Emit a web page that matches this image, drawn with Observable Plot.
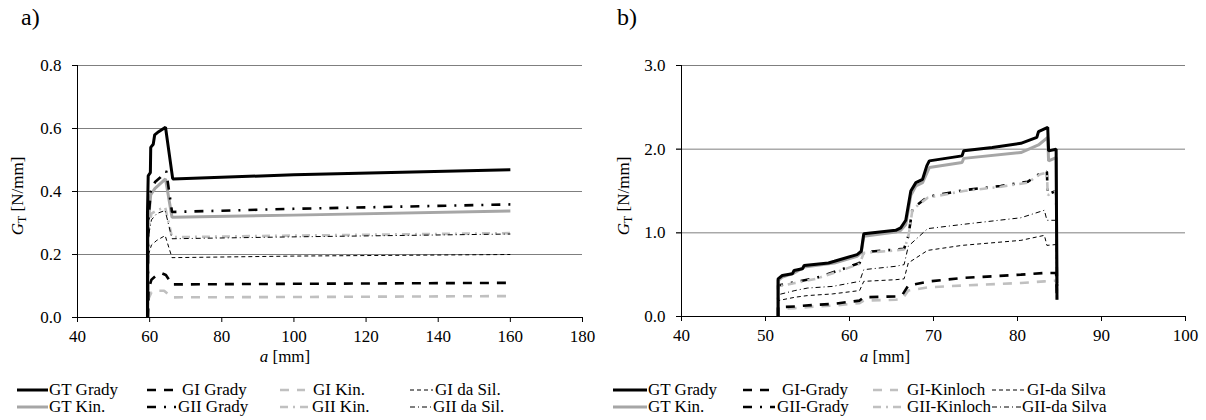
<!DOCTYPE html>
<html>
<head>
<meta charset="utf-8">
<script src="https://cdn.jsdelivr.net/npm/d3@7"></script>
<script src="https://cdn.jsdelivr.net/npm/@observablehq/plot@0.6"></script>
<style>
  body { margin: 0; background: #fff; }
  #root { position: relative; width: 1206px; height: 420px; overflow: hidden; font-family: "Liberation Serif", serif; color: #000; }
  .abs { position: absolute; white-space: nowrap; }
  .panel { position: absolute; top: 0; }
</style>
</head>
<body>
<div id="root"></div>
<script>
// ---------- Panel a) data: [a (mm), G (N/mm)] ----------
const a_xTicks = [40, 60, 80, 100, 120, 140, 160, 180];
const a_yTicks = [0.0, 0.2, 0.4, 0.6, 0.8];
const a_GT_Grady = [[59.4,0],[59.4,0.33],[59.6,0.45],[60.2,0.46],[60.3,0.54],[61.0,0.55],[61.4,0.58],[62.5,0.59],[64.4,0.604],[66.4,0.44],[100,0.453],[130,0.461],[160,0.469]];
const a_GT_Kin = [[59.5,0],[59.6,0.30],[60.3,0.39],[61.5,0.41],[62.5,0.42],[64.4,0.44],[66.2,0.318],[100,0.325],[160,0.338]];
const a_GI_Grady = [[59.5,0],[59.7,0.09],[60.5,0.12],[61.5,0.13],[63.5,0.14],[64.5,0.135],[66.2,0.105],[100,0.107],[160,0.11]];
const a_GII_Grady = [[59.5,0],[59.6,0.30],[60.3,0.40],[61.5,0.43],[63,0.445],[64.6,0.465],[66.2,0.335],[100,0.345],[160,0.359]];
const a_GI_Kin = [[59.5,0],[59.7,0.06],[60.5,0.08],[62,0.085],[64,0.085],[66.2,0.064],[100,0.065],[160,0.068]];
const a_GII_Kin = [[59.5,0],[59.7,0.28],[60.5,0.33],[62,0.34],[64.3,0.35],[66.2,0.255],[100,0.26],[160,0.268]];
const a_GI_daSil = [[59.5,0],[59.7,0.2],[60.5,0.23],[62,0.245],[64.3,0.26],[66.2,0.19],[100,0.195],[160,0.2]];
const a_GII_daSil = [[59.5,0],[59.7,0.26],[60.5,0.31],[62,0.33],[64.3,0.34],[66.2,0.25],[100,0.256],[160,0.265]];

// ---------- Panel b) data ----------
const b_xTicks = [40, 50, 60, 70, 80, 90, 100];
const b_yTicks = [0.0, 1.0, 2.0, 3.0];
const b_GT_Grady = [[51.5,0],[51.5,0.45],[52,0.49],[53.2,0.51],[53.4,0.55],[54.4,0.57],[54.6,0.61],[57.5,0.64],[58.2,0.66],[60.9,0.74],[61.4,0.78],[61.7,0.99],[65.5,1.03],[66.1,1.06],[66.7,1.15],[67.3,1.50],[67.9,1.60],[68.7,1.64],[69.2,1.80],[69.5,1.86],[73.4,1.92],[73.6,1.98],[77,2.02],[80.4,2.07],[82.3,2.14],[82.5,2.21],[83.6,2.26],[83.7,1.98],[84.6,2.0],[84.7,0.2]];
const b_GT_Kin = [[51.5,0],[51.5,0.43],[52,0.47],[53.4,0.52],[54.6,0.59],[58.2,0.64],[60.9,0.72],[61.4,0.76],[61.7,0.96],[65.5,1.01],[66.1,1.03],[66.7,1.10],[67.3,1.45],[67.9,1.56],[68.7,1.60],[69.5,1.78],[73.4,1.84],[73.6,1.89],[80.4,1.96],[82.5,2.05],[83.6,2.14],[83.7,1.86],[84.6,1.9],[84.7,0.4]];
const b_GI_Grady = [[51.5,0],[51.5,0.11],[53.5,0.12],[56,0.14],[58,0.15],[61.2,0.19],[61.7,0.23],[65.5,0.24],[66.3,0.26],[67.0,0.37],[69.5,0.42],[73.4,0.46],[80.4,0.50],[83.2,0.52],[84.6,0.52],[84.7,0.2]];
const b_GII_Grady = [[51.5,0],[51.5,0.37],[53.5,0.41],[56,0.46],[59,0.56],[61.2,0.64],[61.7,0.77],[65.5,0.80],[66.5,0.81],[67.0,0.96],[67.5,1.29],[69.3,1.43],[73.6,1.51],[78,1.56],[81.2,1.61],[82.7,1.71],[83.5,1.73],[83.6,1.46],[84.6,1.5],[84.7,0.3]];
const b_GI_Kin = [[51.5,0],[51.5,0.09],[53.5,0.10],[56,0.12],[58,0.13],[61.2,0.16],[61.7,0.19],[65.5,0.20],[66.3,0.21],[67.0,0.31],[69.5,0.35],[73.4,0.37],[80.4,0.40],[83.2,0.42],[84.6,0.43],[84.7,0.2]];
const b_GII_Kin = [[51.5,0],[51.5,0.36],[53.5,0.40],[56,0.45],[59,0.55],[61.2,0.63],[61.7,0.76],[65.5,0.79],[66.5,0.80],[67.0,0.95],[67.5,1.28],[69.3,1.42],[73.6,1.50],[78,1.55],[81.2,1.60],[82.7,1.70],[83.5,1.72],[83.6,1.45],[84.6,1.5],[84.7,0.3]];
const b_GI_daSil = [[51.5,0],[51.5,0.19],[53.5,0.23],[55,0.25],[58,0.27],[61.2,0.31],[61.7,0.42],[65.5,0.44],[66.5,0.45],[67.0,0.64],[69.3,0.79],[73.4,0.85],[80.4,0.91],[83.2,0.97],[83.5,0.85],[84.6,0.86],[84.7,0.3]];
const b_GII_daSil = [[51.5,0],[51.5,0.26],[53.5,0.31],[55,0.34],[58,0.36],[61.2,0.42],[61.7,0.56],[65.5,0.60],[66.5,0.62],[67.0,0.84],[69.3,1.05],[73.4,1.10],[80.4,1.18],[83.2,1.27],[83.5,1.15],[84.6,1.15],[84.7,0.3]];

const a_labels = ["GT Grady", "GI Grady", "GI Kin.", "GI da Sil.", "GT Kin.", "GII Grady", "GII Kin.", "GII da Sil."];
const b_labels = ["GT Grady", "GI-Grady", "GI-Kinloch", "GI-da Silva", "GT Kin.", "GII-Grady", "GII-Kinloch", "GII-da Silva"];

// styles, in legend order: GT Grady, GI Grady, GI Kin, GI daSil, GT Kin, GII Grady, GII Kin, GII daSil
const styles = [
  {stroke: "#000", strokeWidth: 3, dash: null},
  {stroke: "#000", strokeWidth: 2.6, dash: "9,8"},
  {stroke: "#c0c0c0", strokeWidth: 2.6, dash: "9,8"},
  {stroke: "#000", strokeWidth: 1, dash: "4,3"},
  {stroke: "#a6a6a6", strokeWidth: 3, dash: null},
  {stroke: "#000", strokeWidth: 2.6, dash: "9,8,2,8"},
  {stroke: "#c0c0c0", strokeWidth: 2.6, dash: "8,5,2,5"},
  {stroke: "#000", strokeWidth: 1, dash: "5,3,1,3"}
];

function lineMark(data, s) {
  return Plot.line(data, {x: d => d[0], y: d => d[1], stroke: s.stroke, strokeWidth: s.strokeWidth,
    strokeDasharray: s.dash || undefined, strokeLinecap: "butt", strokeLinejoin: "miter", curve: "linear"});
}

const FONT = "Liberation Serif";
const FS = 17;

function panel(cfg) {
  return Plot.plot({
    width: 603, height: 350,
    marginLeft: cfg.ml, marginRight: 21, marginTop: 65, marginBottom: cfg.mb,
    x: {domain: cfg.xd, label: null},
    y: {domain: cfg.yd, label: null},
    style: {fontFamily: FONT, fontSize: FS + "px", color: "#000", background: "transparent", overflow: "visible"},
    marks: [
      Plot.ruleY(cfg.yTicks.filter(v => v !== 0), {stroke: "#7f7f7f", strokeWidth: 1, insetLeft: -5}),
      Plot.axisX({ticks: cfg.xTicks, tickSize: 5, tickPadding: 7, tickFormat: d => String(d), stroke: "#000", fontSize: FS, fontFamily: FONT}),
      Plot.axisY({ticks: cfg.yTicks, tickSize: 5, tickPadding: 11, tickFormat: d3.format(".1f"), stroke: "#000", fontSize: FS, fontFamily: FONT}),
      ...cfg.order.map(i => lineMark(cfg.series[i], styles[i])),
      Plot.ruleX([cfg.xd[0]], {stroke: "#000", strokeWidth: 1}),
      Plot.ruleY([0], {stroke: "#000", strokeWidth: 1})
    ]
  });
}

const root = document.getElementById("root");

const pa = panel({ml: 77, mb: 33, xd: [40, 180], yd: [0, 0.8], xTicks: a_xTicks, yTicks: a_yTicks,
  order: [6, 2, 4, 7, 3, 5, 1, 0],
  series: [a_GT_Grady, a_GI_Grady, a_GI_Kin, a_GI_daSil, a_GT_Kin, a_GII_Grady, a_GII_Kin, a_GII_daSil]});
pa.classList.add("panel"); pa.style.left = "0px";
root.appendChild(pa);

const pb = panel({ml: 78, mb: 34, xd: [40, 100], yd: [0, 3], xTicks: b_xTicks, yTicks: b_yTicks,
  order: [5, 6, 2, 4, 7, 3, 1, 0],
  series: [b_GT_Grady, b_GI_Grady, b_GI_Kin, b_GI_daSil, b_GT_Kin, b_GII_Grady, b_GII_Kin, b_GII_daSil]});
pb.classList.add("panel"); pb.style.left = "603px";
root.appendChild(pb);

function addText(html, left, top, extra) {
  const d = document.createElement("div");
  d.className = "abs";
  d.innerHTML = html;
  d.style.left = left + "px"; d.style.top = top + "px";
  d.style.fontFamily = FONT;
  Object.assign(d.style, extra || {});
  root.appendChild(d);
  return d;
}

// titles
addText("a)", 21, 4, {fontSize: "24px"});
addText("b)", 617, 4, {fontSize: "24px"});

// y labels (rotated)
const ylab = '<i>G</i><sub style="font-size:12px;vertical-align:-3px">T</sub> [N/mm]';
[[20, 196], [626, 196]].forEach(([cx, cy]) => {
  addText(ylab, cx, cy, {fontSize: FS + "px", transform: "translate(-50%,-50%) rotate(-90deg)", lineHeight: "20px"});
});
// x labels
[[285, 357], [885, 357]].forEach(([cx, cy]) => {
  addText("<i>a</i> [mm]", cx, cy, {fontSize: FS + "px", transform: "translate(-50%,-50%)", lineHeight: "20px"});
});

// legends
function legendItem(label, s, x1, x2, tx, cy) {
  const svg = d3.create("svg").attr("width", x2 - x1).attr("height", 6)
    .style("position", "absolute").style("left", x1 + "px").style("top", (cy - 3) + "px");
  svg.append("line").attr("x1", 0).attr("x2", x2 - x1).attr("y1", 3).attr("y2", 3)
    .attr("stroke", s.stroke).attr("stroke-width", s.strokeWidth)
    .attr("stroke-dasharray", s.dash || null);
  root.appendChild(svg.node());
  addText(label, tx, cy - 10, {fontSize: FS + "px", lineHeight: "20px"});
}
const aPos = [[17,48,49],[147,175,182],[280,305,313],[410,433,435],[17,48,49],[147,176,178],[280,311,312],[410,432,433]];
const bPos = [[613,647,648],[743,772,782],[873,898,907],[992,1025,1027],[613,647,648],[743,775,777],[873,906,907],[992,1021,1022]];
a_labels.forEach((l, i) => legendItem(l, styles[i], aPos[i][0], aPos[i][1], aPos[i][2], i < 4 ? 390 : 407));
b_labels.forEach((l, i) => legendItem(l, styles[i], bPos[i][0], bPos[i][1], bPos[i][2], i < 4 ? 390 : 407));
</script>
</body>
</html>
